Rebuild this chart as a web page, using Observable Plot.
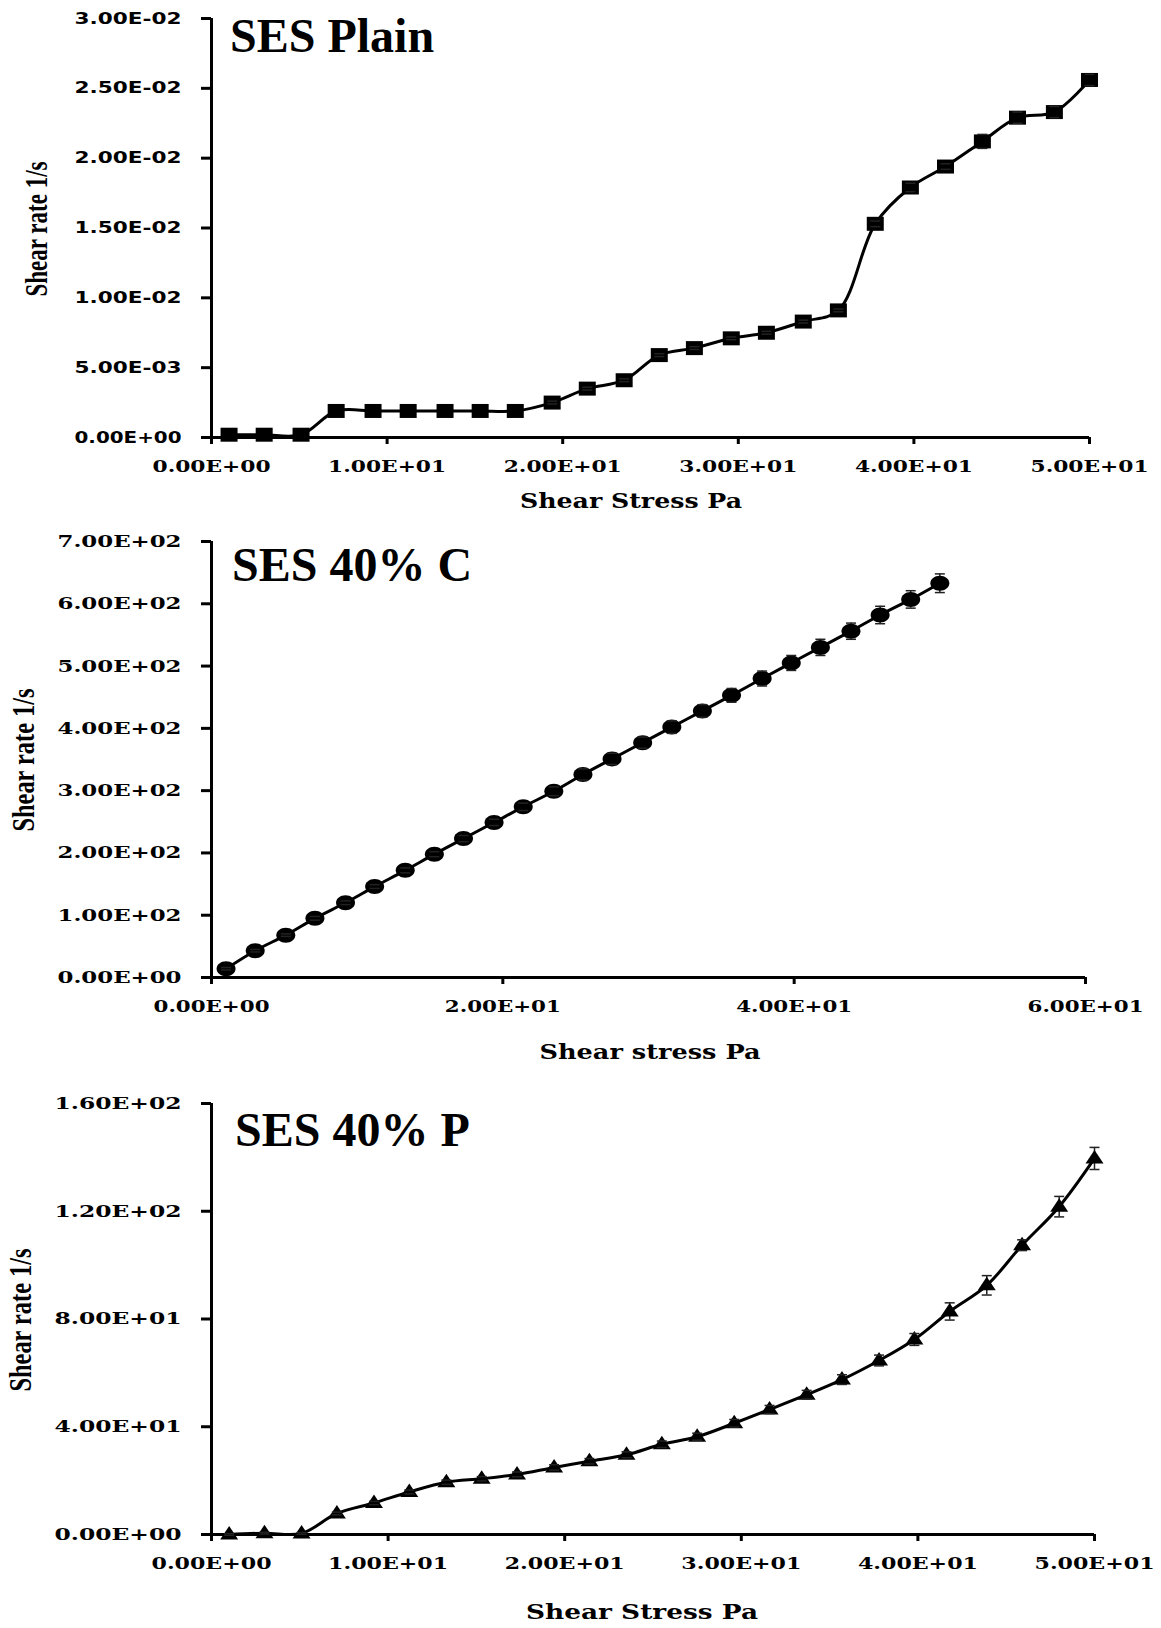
<!DOCTYPE html>
<html><head><meta charset="utf-8">
<script src="https://cdn.jsdelivr.net/npm/d3@7"></script>
<script src="https://cdn.jsdelivr.net/npm/@observablehq/plot@0.6"></script>
<style>
html,body{margin:0;padding:0;background:#fff;}
#chart svg{display:block;}
</style></head><body><div id="chart"></div>
<script>
// ---------- data ----------
const stress = [1.0, 3.0, 5.1, 7.1, 9.2, 11.2, 13.3, 15.3, 17.3, 19.4, 21.4, 23.5, 25.5, 27.5, 29.6, 31.6, 33.7, 35.7, 37.8, 39.8, 41.8, 43.9, 45.9, 48.0, 50.0];

const ratePlain = [0.0002, 0.0002, 0.0002, 0.0019, 0.0019, 0.0019, 0.0019, 0.0019, 0.0019, 0.0025, 0.0035, 0.0041, 0.0059, 0.0064, 0.0071, 0.0075, 0.0083, 0.0091, 0.0153, 0.0179, 0.0194, 0.0212, 0.0229, 0.0233, 0.0256];
const errPlain  = [0, 0, 0, 0, 0, 0, 0, 0, 0, 0.0001, 0.0001, 0.0001, 0.0001, 0.0001, 0.0001, 0.0001, 0.0001, 0.0001, 0.0002, 0.0003, 0.0002, 0.0005, 0.0004, 0.0004, 0.0004];

const rateC = [14, 43, 68, 95, 120, 146, 172, 198, 223, 249, 274, 299, 326, 351, 377, 402, 428, 453, 480, 505, 530, 556, 582, 607, 633];
const errC  = [2, 2, 2, 3, 3, 3, 4, 4, 5, 5, 6, 7, 9, 9, 9, 10, 10, 11, 12, 12, 13, 13, 14, 14, 15];

const rateP = [0, 0.5, 0.4, 7.8, 11.7, 15.8, 19.4, 20.7, 22.3, 24.9, 27.2, 29.6, 33.5, 36.3, 41.3, 46.4, 51.9, 57.5, 64.6, 72.4, 82.8, 92.5, 107.4, 121.7, 139.6];
const errP  = [0.3, 0.3, 0.3, 0.5, 0.6, 0.7, 0.8, 0.8, 0.9, 1.0, 1.0, 1.1, 1.2, 1.3, 1.4, 1.5, 1.6, 1.8, 2.0, 2.2, 3.2, 3.6, 2.0, 3.8, 4.1];

const xTicks50 = [0, 10, 20, 30, 40, 50];
const xLabels50 = ["0.00E+00", "1.00E+01", "2.00E+01", "3.00E+01", "4.00E+01", "5.00E+01"];
const xTicks60 = [0, 20, 40, 60];
const xLabels60 = ["0.00E+00", "2.00E+01", "4.00E+01", "6.00E+01"];

const yTicksPlain = [0, 0.005, 0.01, 0.015, 0.02, 0.025, 0.03];
const yLabelsPlain = ["0.00E+00", "5.00E-03", "1.00E-02", "1.50E-02", "2.00E-02", "2.50E-02", "3.00E-02"];
const yTicksC = [0, 100, 200, 300, 400, 500, 600, 700];
const yLabelsC = ["0.00E+00", "1.00E+02", "2.00E+02", "3.00E+02", "4.00E+02", "5.00E+02", "6.00E+02", "7.00E+02"];
const yTicksP = [0, 40, 80, 120, 160];
const yLabelsP = ["0.00E+00", "4.00E+01", "8.00E+01", "1.20E+02", "1.60E+02"];

const panelTitles = ["SES Plain", "SES 40% C", "SES 40% P"];
const xTitles = ["Shear Stress Pa", "Shear stress Pa", "Shear Stress Pa"];
const yTitle = "Shear rate 1/s";

// ---------- marker shapes ----------
const rectSym = {draw(c) { c.moveTo(-8.5, -7); c.lineTo(8.5, -7); c.lineTo(8.5, 7); c.lineTo(-8.5, 7); c.closePath(); }};
const ellSym = {draw(c) {
  const rx = 9.5, ry = 7.5, k = 0.5523;
  c.moveTo(rx, 0);
  c.bezierCurveTo(rx, ry * k, rx * k, ry, 0, ry);
  c.bezierCurveTo(-rx * k, ry, -rx, ry * k, -rx, 0);
  c.bezierCurveTo(-rx, -ry * k, -rx * k, -ry, 0, -ry);
  c.bezierCurveTo(rx * k, -ry, rx, -ry * k, rx, 0);
  c.closePath();
}};
const triSym = {draw(c) { c.moveTo(0, -8.5); c.lineTo(9, 5); c.lineTo(-9, 5); c.closePath(); }};
const capSym = {draw(c) { c.moveTo(-5, 0); c.lineTo(5, 0); }};

const SERIF_W = "DejaVu Serif";
const TITLE_F = "Liberation Serif";

function panel(cfg) {
  const data = stress.map((x, i) => ({x, y: cfg.y[i], e: cfg.e[i]}));
  const withErr = data.filter(d => d.e > 0);
  const svg = Plot.plot({
    width: 1161, height: cfg.height,
    marginLeft: 211, marginRight: cfg.mr, marginTop: cfg.mt, marginBottom: cfg.mb,
    style: {background: "white", color: "black", overflow: "visible"},
    x: {domain: cfg.xDomain},
    y: {domain: cfg.yDomain},
    marks: [
      Plot.axisY({ticks: cfg.yTicks, tickFormat: d => cfg.yLabels[cfg.yTicks.indexOf(d)], tickSize: 10, tickPadding: 20,
        strokeWidth: 3, fontFamily: cfg.yFont, fontSize: cfg.yFontSize, fontWeight: "bold", label: null}),
      Plot.axisX({ticks: cfg.xTicks, tickFormat: d => cfg.xLabels[cfg.xTicks.indexOf(d)], tickSize: 7, tickPadding: 15,
        strokeWidth: 3, fontFamily: SERIF_W, fontSize: 17, fontWeight: "bold", label: null}),
      Plot.ruleX([cfg.xDomain[0]], {stroke: "black", strokeWidth: 3}),
      Plot.ruleY([cfg.yDomain[0]], {stroke: "black", strokeWidth: 3}),
      Plot.line(data, {x: "x", y: "y", curve: "catmull-rom", stroke: "black", strokeWidth: 3}),
      Plot.ruleX(withErr, {x: "x", y1: d => d.y - d.e, y2: d => d.y + d.e, stroke: "#222", strokeWidth: 1.5}),
      Plot.dot(data, {x: "x", y: "y", symbol: cfg.sym, r: 8, fill: "black", stroke: "none"}),
      Plot.dot(withErr, {x: "x", y: d => d.y + d.e, symbol: capSym, r: 3, fill: "none", stroke: "#222", strokeWidth: 1.5}),
      Plot.dot(withErr, {x: "x", y: d => d.y - d.e, symbol: capSym, r: 3, fill: "none", stroke: "#222", strokeWidth: 1.5})
    ]
  });
  const s = d3.select(svg);
  s.selectAll('g[aria-label="y-axis tick label"] text').attr("textLength", cfg.yTickLen).attr("lengthAdjust", "spacingAndGlyphs");
  s.selectAll('g[aria-label="x-axis tick label"] text').attr("textLength", cfg.xTickLen).attr("lengthAdjust", "spacingAndGlyphs");
  // panel title
  s.append("text").text(cfg.title)
    .attr("x", cfg.titleX).attr("y", cfg.titleY).attr("text-anchor", "start")
    .attr("font-family", TITLE_F).attr("font-weight", "bold").attr("font-size", 48).attr("fill", "black");
  // x axis title
  s.append("text").text(cfg.xTitle)
    .attr("x", cfg.xTitleX).attr("y", cfg.xTitleY)
    .attr("text-anchor", "middle").attr("dominant-baseline", "middle")
    .attr("textLength", cfg.xTitleLen).attr("lengthAdjust", "spacingAndGlyphs")
    .attr("font-family", SERIF_W).attr("font-weight", "bold").attr("font-size", 20).attr("fill", "black");
  // y axis title
  s.append("text").text(yTitle)
    .attr("transform", `translate(${cfg.yTitleX},${cfg.yTitleY}) rotate(-90)`)
    .attr("text-anchor", "middle").attr("dominant-baseline", "middle")
    .attr("textLength", cfg.yTitleLen).attr("lengthAdjust", "spacingAndGlyphs")
    .attr("font-family", TITLE_F).attr("font-weight", "bold").attr("font-size", 32).attr("fill", "black");
  return svg;
}

const root = document.getElementById("chart");
root.appendChild(panel({
  y: ratePlain, e: errPlain, sym: rectSym, height: 520, mt: 18, mb: 83, mr: 72,
  xDomain: [0, 50], yDomain: [0, 0.03], xTicks: xTicks50, xLabels: xLabels50,
  yTicks: yTicksPlain, yLabels: yLabelsPlain, yFont: "DejaVu Sans", yFontSize: 16, yTickLen: 107, xTickLen: 118,
  title: panelTitles[0], titleX: 230, titleY: 52,
  xTitle: xTitles[0], xTitleX: 631, xTitleY: 502, xTitleLen: 222,
  yTitleX: 40, yTitleY: 229, yTitleLen: 135
}));
root.appendChild(panel({
  y: rateC, e: errC, sym: ellSym, height: 560, mt: 21, mb: 103, mr: 76,
  xDomain: [0, 60], yDomain: [0, 700], xTicks: xTicks60, xLabels: xLabels60,
  yTicks: yTicksC, yLabels: yLabelsC, yFont: SERIF_W, yFontSize: 17, yTickLen: 124, xTickLen: 116,
  title: panelTitles[1], titleX: 232, titleY: 61,
  xTitle: xTitles[1], xTitleX: 650, xTitleY: 533, xTitleLen: 221,
  yTitleX: 27, yTitleY: 240, yTitleLen: 143
}));
root.appendChild(panel({
  y: rateP, e: errP, sym: triSym, height: 548, mt: 23, mb: 94, mr: 67,
  xDomain: [0, 50], yDomain: [0, 160], xTicks: xTicks50, xLabels: xLabels50,
  yTicks: yTicksP, yLabels: yLabelsP, yFont: SERIF_W, yFontSize: 17, yTickLen: 127, xTickLen: 120,
  title: panelTitles[2], titleX: 235, titleY: 66,
  xTitle: xTitles[2], xTitleX: 642, xTitleY: 533, xTitleLen: 232,
  yTitleX: 24, yTitleY: 240, yTitleLen: 143
}));
</script>
</body></html>
